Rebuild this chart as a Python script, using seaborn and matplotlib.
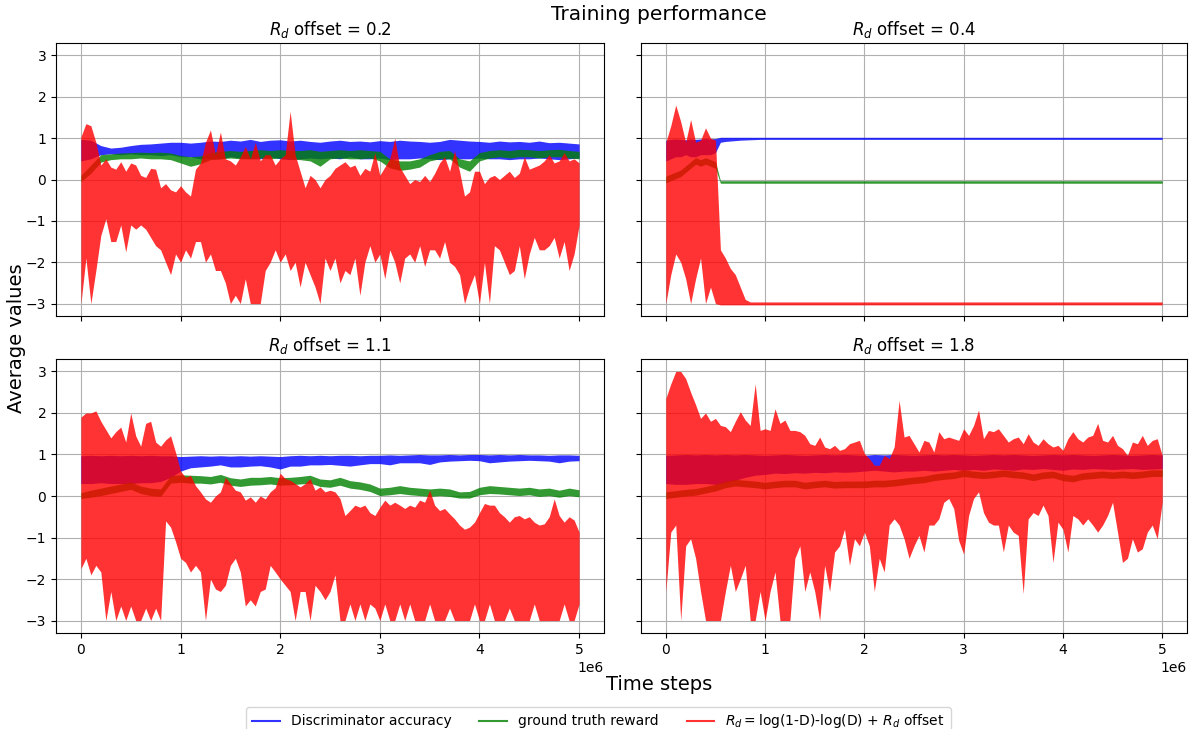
import numpy as np
import pandas as pd
import matplotlib
matplotlib.use("Agg")
import matplotlib.pyplot as plt
import seaborn as sns
from matplotlib.lines import Line2D

# ---------------- data ----------------
offsets = ["0.2", "0.4", "1.1", "1.8"]
legend_labels = ["Discriminator accuracy", "ground truth reward",
                 r"$R_d = $log(1-D)-log(D) + $R_d$ offset"]
x_ticks = [0, 1e6, 2e6, 3e6, 4e6, 5e6]
y_ticks = [-3, -2, -1, 0, 1, 2, 3]

# time-step grid (in millions) for the top-right panel
tr_steps_m = [0.0, 0.05, 0.1, 0.15, 0.2, 0.25, 0.3, 0.35, 0.4, 0.45,
              0.5, 0.55, 0.6, 0.65, 0.7, 0.75, 0.8, 0.85, 0.9, 0.95,
              1.0, 5.0]

# ---- offset 0.2 (top-left) ----
tl_acc_hi = [0.97, 0.95, 0.82, 0.76, 0.78, 0.82, 0.85, 0.86, 0.88, 0.90,
             0.90, 0.88, 0.90, 0.93, 0.92, 0.95, 0.93, 0.97, 0.92, 0.95,
             0.96, 0.93, 0.95, 0.92, 0.90, 0.93, 0.95, 0.92, 0.93, 0.91,
             0.94, 0.92, 0.95, 0.93, 0.92, 0.90, 0.92, 0.97, 0.95, 0.93,
             0.92, 0.90, 0.93, 0.91, 0.92, 0.90, 0.93, 0.89, 0.90, 0.88,
             0.86]
tl_acc_lo = [0.45, 0.50, 0.60, 0.62, 0.60, 0.62, 0.60, 0.60, 0.58, 0.60,
             0.55, 0.55, 0.50, 0.50, 0.50, 0.55, 0.52, 0.50, 0.50, 0.55,
             0.50, 0.48, 0.50, 0.52, 0.50, 0.52, 0.50, 0.55, 0.50, 0.50,
             0.52, 0.48, 0.50, 0.50, 0.52, 0.50, 0.48, 0.50, 0.50, 0.50,
             0.52, 0.50, 0.50, 0.48, 0.50, 0.50, 0.52, 0.50, 0.48, 0.50,
             0.52]
tl_gt_hi = [0.10, 0.35, 0.60, 0.62, 0.64, 0.65, 0.66, 0.65, 0.66, 0.64,
            0.58, 0.55, 0.57, 0.65, 0.68, 0.70, 0.68, 0.70, 0.72, 0.70,
            0.72, 0.70, 0.70, 0.72, 0.68, 0.70, 0.72, 0.70, 0.72, 0.70,
            0.68, 0.50, 0.45, 0.45, 0.50, 0.60, 0.68, 0.70, 0.50, 0.45,
            0.65, 0.70, 0.72, 0.70, 0.73, 0.72, 0.70, 0.72, 0.73, 0.70,
            0.68]
tl_gt_lo = [-0.05, 0.15, 0.42, 0.48, 0.50, 0.50, 0.52, 0.50, 0.50, 0.48,
            0.40, 0.32, 0.38, 0.48, 0.50, 0.52, 0.50, 0.50, 0.52, 0.50,
            0.52, 0.50, 0.48, 0.45, 0.32, 0.50, 0.52, 0.50, 0.50, 0.52,
            0.45, 0.28, 0.22, 0.25, 0.30, 0.45, 0.50, 0.50, 0.30, 0.20,
            0.45, 0.52, 0.55, 0.52, 0.55, 0.55, 0.52, 0.55, 0.55, 0.52,
            0.50]
tl_rd_hi = [1.03, 1.35, 1.30, 0.90, 0.35, 0.50, 0.30, 0.25, 0.43, 0.20,
            0.40, 0.35, 0.10, 0.05, 0.27, 0.25, -0.20, -0.10, -0.25, -0.30,
            -0.15, -0.30, -0.40, 0.25, 0.40, 0.90, 1.20, 0.60, 1.15, 0.50,
            0.45, 0.35, 0.55, 0.80, 0.50, 0.90, 0.45, 0.60, 0.60, 0.35,
            0.50, 0.60, 1.65, 0.60, 0.20, -0.20, 0.10, 0.00, -0.20, 0.00,
            0.10, 0.27, 0.35, 0.43, 0.30, 0.35, 0.10, 0.27, 0.20, 0.65,
            0.10, 0.30, 0.50, 1.00, 0.30, 0.10, -0.10, 0.00, -0.05, 0.10,
            -0.05, 0.15, 0.40, 0.55, 0.20, 0.70, 0.20, -0.40, -0.30, 0.20,
            0.20, -0.10, 0.05, 0.10, 0.00, 0.10, 0.20, 0.05, 0.15, 0.55,
            0.25, 0.30, 0.35, 0.45, 0.60, 0.40, 0.45, 0.65, 0.45, 0.50,
            0.40]
tl_rd_lo = [-3.00, -1.90, -3.00, -2.20, -1.35, -0.95, -1.50, -1.50, -1.10, -1.75,
            -1.10, -1.20, -1.10, -1.20, -1.40, -1.60, -1.70, -2.00, -2.30, -1.80,
            -2.00, -1.70, -1.90, -1.50, -1.50, -2.00, -1.80, -2.20, -2.20, -2.50,
            -3.00, -2.80, -3.00, -2.40, -3.00, -3.00, -3.00, -2.20, -2.00, -1.70,
            -2.00, -1.80, -2.20, -2.00, -2.60, -2.00, -2.30, -2.60, -3.00, -1.90,
            -2.20, -1.90, -2.50, -2.20, -2.30, -1.90, -2.80, -2.00, -1.60, -2.00,
            -1.80, -2.40, -1.70, -2.00, -2.50, -1.90, -1.80, -2.00, -1.60, -2.10,
            -1.70, -1.70, -1.90, -1.50, -2.00, -2.10, -2.30, -3.00, -2.60, -2.30,
            -3.00, -2.00, -3.00, -1.60, -1.70, -2.00, -2.30, -2.20, -1.60, -2.40,
            -1.80, -1.40, -1.70, -1.70, -1.60, -1.40, -1.90, -1.50, -2.20, -1.80,
            -1.10]

# ---- offset 0.4 (top-right), on tr_steps_m ----
tr_acc_hi = [0.95, 0.97, 0.98, 0.97, 0.96, 0.98, 0.97, 0.98, 0.99, 0.98,
             0.99, 1.02, 1.02, 1.02, 1.02, 1.02, 1.02, 1.02, 1.02, 1.02,
             1.02, 1.02]
tr_acc_lo = [0.45, 0.50, 0.55, 0.55, 0.60, 0.55, 0.55, 0.60, 0.60, 0.60,
             0.65, 0.90, 0.92, 0.93, 0.94, 0.95, 0.955, 0.96, 0.965, 0.97,
             0.97, 0.97]
tr_gt_hi = [0.08, 0.13, 0.18, 0.23, 0.33, 0.43, 0.53, 0.48, 0.53, 0.48,
            0.43, -0.03, -0.03, -0.03, -0.03, -0.03, -0.03, -0.03, -0.03, -0.03,
            -0.03, -0.03]
tr_gt_lo = [-0.08, -0.03, 0.02, 0.07, 0.17, 0.27, 0.37, 0.32, 0.37, 0.32,
            0.27, -0.09, -0.09, -0.09, -0.09, -0.09, -0.09, -0.09, -0.09, -0.09,
            -0.09, -0.09]
tr_rd_hi = [0.90, 1.30, 1.80, 1.40, 0.90, 1.45, 0.90, 0.95, 1.25, 1.00,
            0.95, -1.70, -1.90, -2.15, -2.30, -2.60, -2.90, -2.96, -2.96, -2.96,
            -2.96, -2.96]
tr_rd_lo = [-3.00, -2.30, -1.80, -2.00, -2.40, -3.00, -2.40, -1.90, -3.00, -2.60,
            -3.00, -3.03, -3.03, -3.03, -3.03, -3.03, -3.03, -3.03, -3.03, -3.03,
            -3.03, -3.03]

# ---- offset 1.1 (bottom-left) ----
bl_acc_hi = [0.97, 0.98, 0.97, 0.98, 0.97, 0.98, 0.97, 0.98, 0.97, 0.97,
             0.95, 0.96, 0.97, 0.96, 0.97, 0.96, 0.97, 0.96, 0.97, 0.96,
             0.95, 0.97, 0.98, 0.97, 0.98, 0.97, 0.98, 0.98, 0.97, 0.98,
             0.98, 0.99, 0.98, 0.99, 1.00, 0.99, 0.99, 1.00, 0.99, 1.00,
             1.00, 0.99, 1.00, 0.99, 1.00, 0.99, 0.99, 0.98, 0.99, 0.99,
             0.98]
bl_acc_lo = [0.30, 0.30, 0.32, 0.30, 0.30, 0.30, 0.32, 0.32, 0.35, 0.45,
             0.60, 0.68, 0.70, 0.72, 0.75, 0.70, 0.70, 0.72, 0.73, 0.70,
             0.65, 0.72, 0.72, 0.75, 0.75, 0.76, 0.74, 0.72, 0.75, 0.78,
             0.78, 0.75, 0.80, 0.80, 0.80, 0.76, 0.82, 0.84, 0.85, 0.86,
             0.85, 0.80, 0.82, 0.84, 0.85, 0.86, 0.85, 0.84, 0.80, 0.84,
             0.85]
bl_gt_hi = [0.08, 0.14, 0.19, 0.24, 0.29, 0.34, 0.24, 0.19, 0.17, 0.49,
            0.51, 0.50, 0.49, 0.47, 0.52, 0.44, 0.41, 0.45, 0.45, 0.47,
            0.44, 0.45, 0.47, 0.50, 0.41, 0.39, 0.45, 0.37, 0.34, 0.29,
            0.19, 0.21, 0.25, 0.21, 0.19, 0.17, 0.19, 0.17, 0.10, 0.11,
            0.21, 0.25, 0.23, 0.21, 0.19, 0.21, 0.17, 0.19, 0.14, 0.19,
            0.15]
bl_gt_lo = [-0.06, -0.03, 0.01, 0.06, 0.11, 0.16, 0.06, 0.01, -0.01, 0.31,
            0.33, 0.31, 0.31, 0.29, 0.33, 0.26, 0.23, 0.26, 0.27, 0.29,
            0.26, 0.27, 0.29, 0.31, 0.23, 0.21, 0.26, 0.19, 0.16, 0.11,
            0.01, 0.03, 0.06, 0.03, 0.01, -0.01, 0.01, -0.01, -0.05, -0.05,
            0.03, 0.06, 0.05, 0.03, 0.01, 0.03, -0.01, 0.01, -0.03, 0.01,
            -0.02]
bl_rd_hi = [1.90, 2.00, 2.00, 2.05, 1.80, 1.60, 1.40, 1.55, 1.66, 1.30,
            2.00, 1.45, 1.20, 1.75, 1.80, 1.30, 1.20, 1.35, 1.45, 1.05,
            0.60, 0.45, 0.50, 0.25, 0.10, -0.07, -0.15, 0.00, 0.10, 0.45,
            0.30, 0.14, 0.10, -0.10, -0.02, -0.15, 0.00, -0.07, 0.10, 0.20,
            0.55, 0.42, 0.38, 0.30, 0.22, 0.30, 0.42, 0.14, 0.22, 0.10,
            0.14, 0.10, -0.06, -0.47, -0.35, -0.22, -0.27, -0.22, -0.40, -0.47,
            -0.27, -0.10, -0.22, -0.15, -0.22, -0.30, -0.22, -0.27, -0.10, -0.15,
            0.14, -0.22, -0.35, -0.30, -0.43, -0.55, -0.70, -0.80, -0.75, -0.63,
            -0.40, -0.18, -0.22, -0.22, -0.40, -0.50, -0.63, -0.50, -0.47, -0.55,
            -0.50, -0.63, -0.70, -0.67, -0.50, -0.07, -0.47, -0.63, -0.50, -0.58,
            -0.87]
bl_rd_lo = [-1.75, -1.50, -1.90, -1.67, -1.83, -3.00, -2.30, -3.00, -2.65, -3.00,
            -2.65, -3.00, -3.00, -2.70, -3.00, -2.70, -3.00, -0.60, -0.75, -1.10,
            -1.50, -1.60, -1.83, -1.67, -1.83, -3.00, -2.00, -2.24, -2.30, -2.15,
            -1.67, -1.50, -1.83, -2.65, -2.50, -2.65, -2.30, -2.24, -1.67, -1.83,
            -2.00, -2.15, -2.30, -3.00, -2.30, -2.30, -3.00, -2.15, -2.30, -2.50,
            -2.30, -1.90, -3.00, -3.00, -2.60, -3.00, -2.60, -3.00, -2.60, -2.70,
            -3.00, -2.60, -3.00, -3.00, -2.60, -3.00, -2.60, -3.00, -3.00, -3.00,
            -2.60, -3.00, -3.00, -3.00, -2.70, -3.00, -3.00, -3.00, -3.00, -2.60,
            -3.00, -3.00, -2.60, -3.00, -3.00, -3.00, -2.70, -3.00, -3.00, -3.00,
            -3.00, -2.60, -3.00, -3.00, -3.00, -3.00, -3.00, -2.60, -3.00, -3.00,
            -2.60]

# ---- offset 1.8 (bottom-right) ----
br_acc_hi = [0.98, 0.99, 1.00, 0.99, 1.00, 0.99, 1.00, 0.99, 1.00, 0.99,
             0.98, 0.99, 1.00, 0.99, 0.98, 0.99, 1.00, 0.99, 1.00, 0.99,
             0.98, 1.00, 0.99, 1.00, 0.99, 0.98, 0.99, 1.00, 0.99, 1.00,
             0.99, 0.98, 0.99, 1.00, 0.99, 1.00, 0.99, 0.98, 0.99, 1.00,
             0.99, 1.00, 0.99, 0.98, 0.99, 1.00, 0.99, 0.98, 0.99, 1.00,
             0.99]
br_acc_lo = [0.30, 0.28, 0.28, 0.30, 0.30, 0.28, 0.32, 0.38, 0.45, 0.50,
             0.52, 0.55, 0.54, 0.56, 0.55, 0.57, 0.56, 0.58, 0.57, 0.58,
             0.60, 0.62, 0.60, 0.58, 0.60, 0.60, 0.62, 0.60, 0.62, 0.64,
             0.62, 0.64, 0.62, 0.65, 0.64, 0.62, 0.65, 0.64, 0.66, 0.64,
             0.62, 0.65, 0.64, 0.66, 0.65, 0.64, 0.65, 0.66, 0.64, 0.65,
             0.66]
br_gt_hi = [0.10, 0.13, 0.16, 0.18, 0.23, 0.28, 0.36, 0.40, 0.38, 0.36,
            0.33, 0.36, 0.38, 0.38, 0.33, 0.36, 0.38, 0.35, 0.36, 0.36,
            0.36, 0.38, 0.38, 0.40, 0.43, 0.46, 0.48, 0.53, 0.56, 0.58,
            0.63, 0.60, 0.58, 0.60, 0.63, 0.60, 0.58, 0.53, 0.58, 0.60,
            0.53, 0.50, 0.56, 0.58, 0.60, 0.58, 0.60, 0.58, 0.60, 0.63,
            0.63]
br_gt_lo = [-0.06, -0.03, 0.00, 0.02, 0.07, 0.12, 0.20, 0.24, 0.22, 0.20,
            0.17, 0.20, 0.22, 0.22, 0.17, 0.20, 0.22, 0.19, 0.20, 0.20,
            0.20, 0.22, 0.22, 0.24, 0.27, 0.30, 0.32, 0.37, 0.40, 0.42,
            0.47, 0.44, 0.42, 0.44, 0.47, 0.44, 0.42, 0.37, 0.42, 0.44,
            0.37, 0.34, 0.40, 0.42, 0.44, 0.42, 0.44, 0.42, 0.44, 0.47,
            0.47]
br_rd_hi = [2.35, 2.70, 3.00, 3.00, 2.83, 2.50, 2.20, 1.87, 2.00, 1.80,
            1.87, 1.70, 1.67, 1.55, 1.80, 2.03, 1.83, 1.70, 2.70, 1.58,
            1.62, 1.58, 2.10, 1.75, 1.83, 1.58, 1.58, 1.55, 1.46, 1.26,
            1.22, 1.42, 1.18, 1.14, 1.22, 1.10, 1.14, 1.26, 1.30, 1.34,
            1.02, 0.90, 0.74, 0.74, 0.98, 0.90, 1.18, 2.30, 1.42, 1.46,
            1.26, 1.06, 1.34, 1.30, 1.06, 1.55, 1.38, 1.42, 1.38, 1.34,
            1.62, 1.46, 1.70, 2.07, 1.38, 1.58, 1.55, 1.62, 1.46, 1.30,
            1.38, 1.42, 1.26, 1.50, 1.30, 1.22, 1.38, 1.26, 1.18, 1.22,
            1.10, 1.38, 1.55, 1.38, 1.30, 1.42, 1.46, 1.75, 1.34, 1.30,
            1.46, 1.22, 1.14, 0.98, 1.30, 1.26, 1.46, 1.22, 1.34, 1.38,
            0.98]
br_rd_lo = [-2.30, -0.87, -0.70, -3.00, -1.20, -1.03, -1.50, -2.30, -3.00, -3.00,
            -3.00, -3.00, -2.30, -1.67, -2.30, -2.00, -1.67, -3.00, -3.00, -2.30,
            -3.00, -2.30, -1.83, -3.00, -3.00, -3.00, -1.50, -1.20, -2.30, -1.83,
            -2.30, -3.00, -1.67, -2.30, -1.35, -1.20, -0.80, -1.67, -1.03, -1.20,
            -0.87, -1.20, -2.30, -1.50, -1.83, -0.70, -0.55, -0.70, -1.03, -1.50,
            -1.20, -0.95, -1.35, -0.70, -0.70, -0.55, -0.15, -0.06, -0.30, -1.07,
            -1.40, -0.47, -0.06, 0.10, -0.40, -0.63, -0.70, -0.70, -1.35, -0.70,
            -0.87, -0.95, -2.35, -0.55, -0.40, -0.47, -0.22, -0.47, -1.60, -0.63,
            -0.80, -1.35, -0.47, -0.55, -0.70, -0.55, -0.70, -0.87, -0.70, -0.47,
            -0.15, -0.87, -1.60, -1.50, -1.03, -1.35, -1.27, -0.87, -0.70, -1.03,
            -0.15]

# ---------------- figure ----------------
W, H = 1197, 729
fig, axes = plt.subplots(2, 2, figsize=(W / 100, H / 100), dpi=100,
                         sharex=True, sharey=True)
colors = ["blue", "green", "red"]


def band(ax, steps, lo, hi, color):
    """Draw a dense noisy trace as its min/max band via seaborn."""
    df = pd.DataFrame({"t": np.concatenate([steps, steps]),
                       "v": np.concatenate([lo, hi])})
    sns.lineplot(data=df, x="t", y="v", estimator="mean",
                 errorbar=("pi", 100), color=color, linewidth=0,
                 err_kws={"alpha": 0.8, "linewidth": 0}, legend=False, ax=ax)


def grid_for(values):
    return np.linspace(0, 5e6, len(values))


tr_steps = np.array(tr_steps_m) * 1e6

panels = [
    (axes[0, 0], offsets[0], [(grid_for(tl_acc_hi), tl_acc_lo, tl_acc_hi),
                              (grid_for(tl_gt_hi), tl_gt_lo, tl_gt_hi),
                              (grid_for(tl_rd_hi), tl_rd_lo, tl_rd_hi)]),
    (axes[0, 1], offsets[1], [(tr_steps, tr_acc_lo, tr_acc_hi),
                              (tr_steps, tr_gt_lo, tr_gt_hi),
                              (tr_steps, tr_rd_lo, tr_rd_hi)]),
    (axes[1, 0], offsets[2], [(grid_for(bl_acc_hi), bl_acc_lo, bl_acc_hi),
                              (grid_for(bl_gt_hi), bl_gt_lo, bl_gt_hi),
                              (grid_for(bl_rd_hi), bl_rd_lo, bl_rd_hi)]),
    (axes[1, 1], offsets[3], [(grid_for(br_acc_hi), br_acc_lo, br_acc_hi),
                              (grid_for(br_gt_hi), br_gt_lo, br_gt_hi),
                              (grid_for(br_rd_hi), br_rd_lo, br_rd_hi)]),
]

for ax, off, series in panels:
    for (steps, lo, hi), c in zip(series, colors):
        band(ax, steps, lo, hi, c)
    ax.set_title(r"$R_d$ offset = " + off, fontsize=12)
    ax.set_xlabel("")
    ax.set_ylabel("")
    ax.grid(True)
    ax.set_axisbelow(True)

axes[0, 0].set_xlim(-0.25e6, 5.25e6)
axes[0, 0].set_ylim(-3.3, 3.3)
axes[0, 0].set_xticks(x_ticks)
axes[0, 0].set_yticks(y_ticks)

# axes placement (pixel-measured)
axes[0, 0].set_position([56 / W, 1 - 316 / H, 548 / W, 273 / H])
axes[0, 1].set_position([641 / W, 1 - 316 / H, 546 / W, 273 / H])
axes[1, 0].set_position([56 / W, 1 - 633 / H, 548 / W, 274 / H])
axes[1, 1].set_position([641 / W, 1 - 633 / H, 546 / W, 274 / H])

fig.text(659 / W, 1 - 15 / H, "Training performance", ha="center",
         va="center", fontsize=14.5)
fig.text(659 / W, 1 - 685 / H, "Time steps", ha="center", va="center",
         fontsize=14)
fig.text(17 / W, 1 - 338 / H, "Average values", ha="center", va="center",
         rotation=90, fontsize=14)

handles = [Line2D([], [], color=c, alpha=0.8, lw=1.5) for c in colors]
fig.legend(handles, legend_labels, loc="upper center",
           bbox_to_anchor=(0.5, 1 - 700 / H), ncol=3, fontsize=10)

fig.savefig("out.png", dpi=100)
